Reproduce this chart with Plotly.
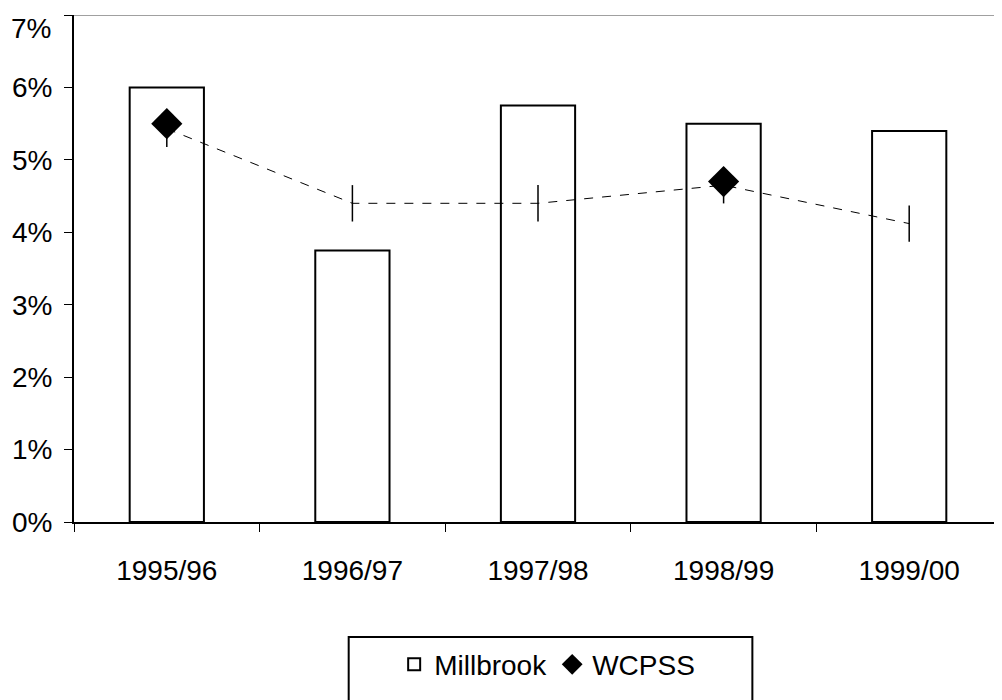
import plotly.graph_objects as go

years = ['1995/96', '1996/97', '1997/98', '1998/99', '1999/00']
millbrook = [6.0, 3.75, 5.75, 5.5, 5.4]
wcpss = [5.5, None, None, 4.7, None]
trend = [5.43, 4.4, 4.4, 4.65, 4.12]
y_ticks = [0, 1, 2, 3, 4, 5, 6, 7]
y_labels = ['0%', '1%', '2%', '3%', '4%', '5%', '6%', '']

fig = go.Figure()
fig.add_trace(go.Bar(x=years, y=millbrook, name='Millbrook', width=0.4,
                     marker=dict(color='white', line=dict(color='black', width=2))))
fig.add_trace(go.Scatter(x=years, y=trend, mode='lines+markers', showlegend=False,
                         line=dict(color='black', width=1, dash='dash'),
                         marker=dict(symbol='line-ns', size=26, line=dict(color='black', width=1.5))))
fig.add_trace(go.Scatter(x=years, y=wcpss, mode='markers', name='WCPSS',
                         marker=dict(symbol='diamond', size=24, color='black')))

fig.add_shape(type='line', xref='paper', x0=0, x1=1, yref='y', y0=7, y1=7,
              line=dict(color='gray', width=1.5))
# legend box
fig.add_shape(type='rect', xref='paper', yref='paper', x0=0.296, x1=0.731, y0=-0.40, y1=-0.227,
              line=dict(color='black', width=2), fillcolor='rgba(0,0,0,0)')
# top tick label sits below its tick, as in the original
fig.add_annotation(text='7%', xref='paper', x=-0.023, xanchor='right', yref='y', y=7,
                   yanchor='top', yshift=4, showarrow=False, font=dict(size=28))

fig.update_layout(
    width=994, height=692,
    margin=dict(l=66, r=0, t=7, b=178, autoexpand=False),
    plot_bgcolor='white', paper_bgcolor='white',
    font=dict(family='Liberation Sans, Arial', size=28, color='black'),
    showlegend=True,
    legend=dict(orientation='h', x=0.345, xanchor='left', y=-0.232, yanchor='top',
                bgcolor='rgba(0,0,0,0)', itemwidth=30, tracegroupgap=0,
                font=dict(size=28)),
    xaxis=dict(showline=True, linecolor='black', linewidth=2, ticks='outside',
               tickson='boundaries', ticklen=8, tickcolor='black', automargin=False,
               ticklabelstandoff=22),
    yaxis=dict(range=[0, 7], tickvals=y_ticks, ticktext=y_labels, showgrid=False,
               showline=True, linecolor='black', linewidth=2, ticks='outside', ticklen=8,
               tickcolor='black', zeroline=False, automargin=False,
               ticklabelstandoff=6),
)

fig.write_html('out.html')
